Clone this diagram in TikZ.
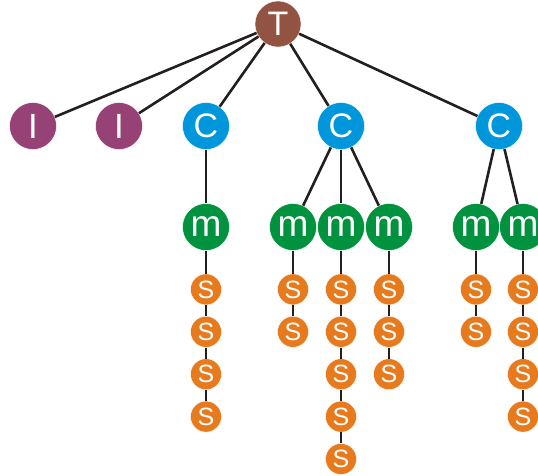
\documentclass[tikz,border=0pt]{standalone}
\usepackage{fontspec}
\setmainfont{Liberation Sans}
\usetikzlibrary{positioning}
\definecolor{tbrown}{RGB}{147,83,66}
\definecolor{ipurple}{RGB}{151,66,119}
\definecolor{cblue}{RGB}{0,150,219}
\definecolor{mgreen}{RGB}{0,146,63}
\definecolor{sorange}{RGB}{232,122,30}
\definecolor{linecol}{RGB}{35,31,32}
\begin{document}
\begin{tikzpicture}[x=1pt, y=-1pt,
    dot/.style={circle, inner sep=0pt, text=white, draw=white, line width=0.4pt},
    tdot/.style={dot, fill=tbrown, minimum size=46pt, font=\fontsize{34}{34}\selectfont},
    idot/.style={dot, fill=ipurple, minimum size=47pt, font=\fontsize{35}{35}\selectfont},
    cdot/.style={dot, fill=cblue, minimum size=47pt, font=\fontsize{34}{34}\selectfont},
    mdot/.style={dot, fill=mgreen, minimum size=47pt, font=\fontsize{37}{37}\selectfont},
    sdot/.style={dot, fill=sorange, minimum size=31pt, font=\fontsize{25}{25}\selectfont},
    link/.style={draw=linecol, line width=2.6pt},
    slink/.style={draw=linecol, line width=2.2pt},
    node distance=11pt
]
\useasboundingbox (0,0) rectangle (538,475);
% Top levels
\node[tdot] (t) at (278,24) {T};
\node[idot] (i1) at (33,126) {I};
\node[idot] (i2) at (119,126) {I};
\node[cdot] (c1) at (206,126) {C};
\node[cdot] (c2) at (341,126) {C};
\node[cdot] (c3) at (499,126) {C};
% m row
\node[mdot] (m1) at (206,227) {m};
\node[mdot] (m2) at (293,227) {m};
\node[mdot] (m3) at (341,227) {m};
\node[mdot] (m4) at (389,227) {m};
\node[mdot] (m5) at (476,227) {m};
\node[mdot] (m6) at (523,227) {m};
% S chains
\node[sdot, below=23pt of m1] (s11) {S};
\node[sdot, below=of s11] (s12) {S};
\node[sdot, below=of s12] (s13) {S};
\node[sdot, below=of s13] (s14) {S};
\node[sdot, below=23pt of m2] (s21) {S};
\node[sdot, below=of s21] (s22) {S};
\node[sdot, below=23pt of m3] (s31) {S};
\node[sdot, below=of s31] (s32) {S};
\node[sdot, below=of s32] (s33) {S};
\node[sdot, below=of s33] (s34) {S};
\node[sdot, below=of s34] (s35) {S};
\node[sdot, below=23pt of m4] (s41) {S};
\node[sdot, below=of s41] (s42) {S};
\node[sdot, below=of s42] (s43) {S};
\node[sdot, below=23pt of m5] (s51) {S};
\node[sdot, below=of s51] (s52) {S};
\node[sdot, below=23pt of m6] (s61) {S};
\node[sdot, below=of s61] (s62) {S};
\node[sdot, below=of s62] (s63) {S};
\node[sdot, below=of s63] (s64) {S};

% Links
\draw[link] (t) -- (i1);
\draw[link] (t) -- (i2);
\draw[link] (t) -- (c1);
\draw[link] (t) -- (c2);
\draw[link] (t) -- (c3);
\draw[link] (c1) -- (m1);
\draw[link] (c2) -- (m2);
\draw[link] (c2) -- (m3);
\draw[link] (c2) -- (m4);
\draw[link] (c3) -- (m5);
\draw[link] (c3) -- (m6);
\draw[slink] (m1) -- (s11) -- (s12) -- (s13) -- (s14);
\draw[slink] (m2) -- (s21) -- (s22);
\draw[slink] (m3) -- (s31) -- (s32) -- (s33) -- (s34) -- (s35);
\draw[slink] (m4) -- (s41) -- (s42) -- (s43);
\draw[slink] (m5) -- (s51) -- (s52);
\draw[slink] (m6) -- (s61) -- (s62) -- (s63) -- (s64);
\end{tikzpicture}
\end{document}
